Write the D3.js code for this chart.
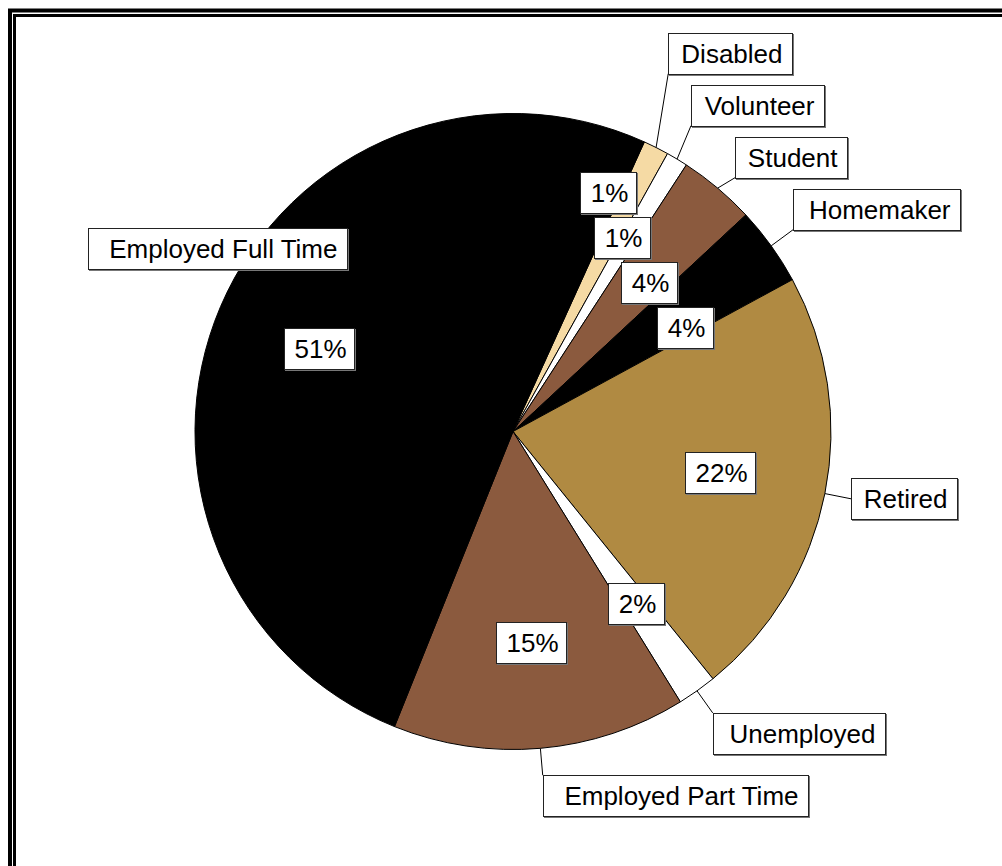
<!DOCTYPE html>
<html>
<head>
<meta charset="utf-8">
<script src="https://cdn.jsdelivr.net/npm/d3@7"></script>
<style>
  html, body { margin: 0; padding: 0; background: #fff; }
  svg { display: block; }
  text { font-family: "Liberation Sans", Arial, sans-serif; font-size: 26px; fill: #000; }
</style>
</head>
<body>
<svg id="chart" width="1002" height="866"></svg>
<script>
// data (percent of respondents)
const categories = ["Disabled", "Volunteer", "Student", "Homemaker", "Retired", "Unemployed", "Employed Part Time", "Employed Full Time"];
const shares = [1.3, 1.1, 3.9, 4.0, 22.1, 2.0, 14.9, 50.7];
const sliceColors = ["#F5DAA4", "#FFFFFF", "#8B5A3E", "#000000", "#B08A42", "#FFFFFF", "#8B5A3E", "#000000"];

/* ===================================
 *  LAYOUT
 * =================================== */
const cx = 513, cy = 431.5, radius = 318;
const startDeg = 24.4;
const boxH = 41;
// this callout was dragged inward in the original (no leader line)
const calloutNudge = { "Employed Full Time": { turn: 8.7, radius: 1.093 } };

const svg = d3.select("#chart");
const toRad = d => d * Math.PI / 180;
const polar = (a, r) => [cx + r * Math.sin(a), cy - r * Math.cos(a)];

// double frame
svg.append("rect").attr("x", 10).attr("y", 10.5).attr("width", 1010).attr("height", 880)
  .attr("fill", "none").attr("stroke", "#000").attr("stroke-width", 4);
svg.append("rect").attr("x", 14.5).attr("y", 15.5).attr("width", 1010).attr("height", 880)
  .attr("fill", "none").attr("stroke", "#000").attr("stroke-width", 3);

const total = d3.sum(shares);
const pie = d3.pie().sort(null)
  .startAngle(toRad(startDeg)).endAngle(toRad(startDeg) + 2 * Math.PI);
const arcs = pie(shares);
const arc = d3.arc().innerRadius(0).outerRadius(radius);

svg.append("g").attr("transform", `translate(${cx},${cy})`)
  .selectAll("path").data(arcs).join("path")
  .attr("d", arc)
  .attr("fill", (d, i) => sliceColors[i])
  .attr("stroke", "#000").attr("stroke-width", 1);

// text measuring helper
const probe = svg.append("text").attr("x", -1000).attr("y", -1000);
const measure = s => { probe.text(s); return probe.node().getComputedTextLength(); };

// stack overlapping labels vertically, each group centered on the median of its ideal spots
function stack(items, spacing) {
  const clusters = items.slice().sort((a, b) => a.y - b.y).map(it => ({ members: [it] }));
  const place = c => {
    const ys = c.members.map(m => m.y).sort((a, b) => a - b);
    const n = ys.length;
    const med = n % 2 ? ys[(n - 1) / 2] : (ys[n / 2 - 1] + ys[n / 2]) / 2;
    c.members.forEach((m, k) => { m.pos = med + (k - (n - 1) / 2) * spacing; });
  };
  clusters.forEach(place);
  let merged = true;
  while (merged) {
    merged = false;
    for (let k = 0; k < clusters.length - 1; k++) {
      const a = clusters[k], b = clusters[k + 1];
      const la = a.members[a.members.length - 1], fb = b.members[0];
      const xo = la.x0 < fb.x1 && fb.x0 < la.x1;
      if (xo && fb.pos - la.pos < spacing) {
        a.members = a.members.concat(b.members);
        clusters.splice(k + 1, 1);
        place(a);
        merged = true;
        break;
      }
    }
  }
}

function drawBox(g, x, y, w, h) {
  x = Math.round(x) + 0.5; y = Math.round(y) + 0.5; w = Math.round(w); h = Math.round(h);
  g.append("rect").attr("x", x + 1).attr("y", y + 1).attr("width", w).attr("height", h)
    .attr("fill", "none").attr("stroke", "#777").attr("stroke-width", 1);
  g.append("rect").attr("x", x).attr("y", y).attr("width", w).attr("height", h)
    .attr("fill", "#fff").attr("stroke", "#222").attr("stroke-width", 1);
  return { x, y, w, h };
}

/* ===================================
 *  CATEGORY CALLOUTS
 * =================================== */
const callouts = arcs.map((d, i) => {
  const mid = (d.startAngle + d.endAngle) / 2;
  const name = categories[i];
  const w = 1.06 * measure(name) + 17;
  const nudge = calloutNudge[name];
  if (nudge) {
    const [ax, ay] = polar(mid + toRad(nudge.turn), radius * nudge.radius);
    return { name, mid, w, x0: ax - w / 2, x1: ax + w / 2, y: ay - boxH / 2, leader: false };
  }
  const [ax, ay] = polar(mid, radius * 1.085);
  const right = Math.sin(mid) >= 0;
  const c = Math.cos(mid);
  const attach = c > 0.3 ? "bottom" : c < -0.3 ? "top" : "mid";
  const top = attach === "bottom" ? ay - boxH : attach === "top" ? ay : ay - boxH / 2;
  const x0 = right ? ax : ax - w;
  return { name, mid, w, x0, x1: x0 + w, y: top, right, attach, leader: true };
});
stack(callouts.filter(c => c.leader), boxH + 11);
callouts.forEach(c => { if (c.pos === undefined) c.pos = c.y; });

const leaderG = svg.append("g");
const calloutG = svg.append("g");
callouts.forEach(c => {
  if (c.leader) {
    const [ex, ey] = polar(c.mid, radius);
    const lx = c.right ? c.x0 : c.x1;
    const ly = c.attach === "bottom" ? c.pos + boxH : c.attach === "top" ? c.pos : c.pos + boxH / 2;
    leaderG.append("line").attr("x1", ex).attr("y1", ey).attr("x2", lx).attr("y2", ly)
      .attr("stroke", "#000").attr("stroke-width", 1);
  }
  const g = calloutG.append("g");
  const b = drawBox(g, c.x0, c.pos, c.w, boxH);
  g.append("text").attr("x", b.x + b.w - 10).attr("y", b.y + b.h / 2 + 9)
    .attr("text-anchor", "end").text(c.name);
});

/* ===================================
 *  PERCENT LABELS
 * =================================== */
const pctLabels = arcs.map((d, i) => {
  const mid = (d.startAngle + d.endAngle) / 2;
  const txt = Math.round(d.value / total * 100) + "%";
  const w = measure(txt) + 18;
  const [px, py] = polar(mid, radius * 0.665);
  return { txt, w, cxp: px, x0: px - w / 2, x1: px + w / 2, y: py };
});
stack(pctLabels, boxH + 4);

const pctG = svg.append("g");
pctLabels.forEach(p => {
  const g = pctG.append("g");
  const b = drawBox(g, p.x0, p.pos - boxH / 2, p.w, boxH);
  g.append("text").attr("x", b.x + b.w / 2 + 1).attr("y", b.y + b.h / 2 + 9)
    .attr("text-anchor", "middle").text(p.txt);
});

probe.remove();
</script>
</body>
</html>
